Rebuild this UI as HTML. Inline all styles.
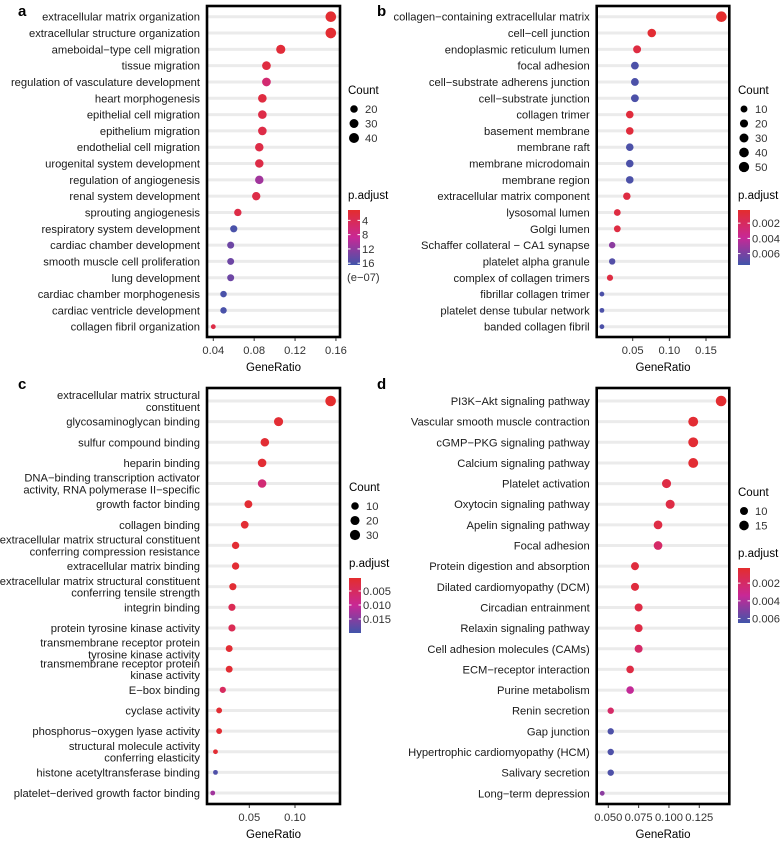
<!DOCTYPE html>
<html><head><meta charset="utf-8">
<style>
html,body{margin:0;padding:0;background:#fff;}
svg{display:block;font-family:"Liberation Sans",Arial,sans-serif;}
</style></head>
<body>
<svg id="chart" width="782" height="842" viewBox="0 0 782 842" xmlns="http://www.w3.org/2000/svg">
<defs>
<linearGradient id="gradP" x1="0" y1="0" x2="0" y2="1">
<stop offset="0" stop-color="rgb(228,45,45)"/>
<stop offset="0.5" stop-color="rgb(200,40,150)"/>
<stop offset="1" stop-color="rgb(65,85,170)"/>
</linearGradient>
</defs>
</svg>
<script>
// ---------- Panel a data ----------
const catsA = ["extracellular matrix organization","extracellular structure organization","ameboidal\u2212type cell migration","tissue migration","regulation of vasculature development","heart morphogenesis","epithelial cell migration","epithelium migration","endothelial cell migration","urogenital system development","regulation of angiogenesis","renal system development","sprouting angiogenesis","respiratory system development","cardiac chamber development","smooth muscle cell proliferation","lung development","cardiac chamber morphogenesis","cardiac ventricle development","collagen fibril organization"];
const ratioA = [0.155,0.155,0.106,0.092,0.092,0.088,0.088,0.088,0.085,0.085,0.085,0.082,0.064,0.060,0.057,0.057,0.057,0.050,0.050,0.040];
const countA = [47,47,32,28,28,27,27,27,26,26,26,25,19,18,17,17,17,15,15,12];
const padjA = [1.5,1.5,2,2.5,6,2.5,3,3,3,3,11,3,3,16,14,14,14,16,16,3];
const xTicksA = [0.04,0.08,0.12,0.16];
const xTickLabelsA = ["0.04","0.08","0.12","0.16"];
const countLegA = [20,30,40];
const pTicksA = [4,8,12,16];
const pTickLabelsA = ["4","8","12","16"];

// ---------- Panel b data ----------
const catsB = ["collagen\u2212containing extracellular matrix","cell\u2212cell junction","endoplasmic reticulum lumen","focal adhesion","cell\u2212substrate adherens junction","cell\u2212substrate junction","collagen trimer","basement membrane","membrane raft","membrane microdomain","membrane region","extracellular matrix component","lysosomal lumen","Golgi lumen","Schaffer collateral \u2212 CA1 synapse","platelet alpha granule","complex of collagen trimers","fibrillar collagen trimer","platelet dense tubular network","banded collagen fibril"];
const ratioB = [0.171,0.076,0.056,0.053,0.053,0.053,0.046,0.046,0.046,0.046,0.046,0.042,0.029,0.029,0.022,0.022,0.019,0.008,0.008,0.008];
const countB = [55,25,18,17,17,17,15,15,15,15,15,14,9,9,7,7,6,3,3,3];
const padjB = [0.0003,0.0005,0.001,0.0072,0.0072,0.0072,0.0008,0.0008,0.0072,0.0072,0.0072,0.001,0.001,0.001,0.0055,0.007,0.001,0.0072,0.0072,0.0072];
const xTicksB = [0.05,0.10,0.15];
const xTickLabelsB = ["0.05","0.10","0.15"];
const countLegB = [10,20,30,40,50];
const pTicksB = [0.002,0.004,0.006];
const pTickLabelsB = ["0.002","0.004","0.006"];

// ---------- Panel c data ----------
const catsC = ["extracellular matrix structural\nconstituent","glycosaminoglycan binding","sulfur compound binding","heparin binding","DNA\u2212binding transcription activator\nactivity, RNA polymerase II\u2212specific","growth factor binding","collagen binding","extracellular matrix structural constituent\nconferring compression resistance","extracellular matrix binding","extracellular matrix structural constituent\nconferring tensile strength","integrin binding","protein tyrosine kinase activity","transmembrane receptor protein\ntyrosine kinase activity","transmembrane receptor protein\nkinase activity","E\u2212box binding","cyclase activity","phosphorus\u2212oxygen lyase activity","structural molecule activity\nconferring elasticity","histone acetyltransferase binding","platelet\u2212derived growth factor binding"];
const ratioC = [0.139,0.082,0.067,0.064,0.064,0.049,0.045,0.035,0.035,0.032,0.031,0.031,0.028,0.028,0.021,0.017,0.017,0.013,0.013,0.010];
const countC = [34,20,16,16,16,12,11,9,9,8,8,8,7,7,5,4,4,3,3,3];
const padjC = [0.0005,0.001,0.001,0.001,0.007,0.001,0.001,0.001,0.001,0.001,0.004,0.004,0.001,0.001,0.005,0.001,0.001,0.001,0.019,0.013];
const xTicksC = [0.05,0.10];
const xTickLabelsC = ["0.05","0.10"];
const countLegC = [10,20,30];
const pTicksC = [0.005,0.010,0.015];
const pTickLabelsC = ["0.005","0.010","0.015"];

// ---------- Panel d data ----------
const catsD = ["PI3K\u2212Akt signaling pathway","Vascular smooth muscle contraction","cGMP\u2212PKG signaling pathway","Calcium signaling pathway","Platelet activation","Oxytocin signaling pathway","Apelin signaling pathway","Focal adhesion","Protein digestion and absorption","Dilated cardiomyopathy (DCM)","Circadian entrainment","Relaxin signaling pathway","Cell adhesion molecules (CAMs)","ECM\u2212receptor interaction","Purine metabolism","Renin secretion","Gap junction","Hypertrophic cardiomyopathy (HCM)","Salivary secretion","Long\u2212term depression"];
const ratioD = [0.143,0.120,0.120,0.120,0.098,0.101,0.091,0.091,0.072,0.072,0.075,0.075,0.075,0.068,0.068,0.052,0.052,0.052,0.052,0.045];
const countD = [19,16,16,16,13,13,12,12,10,10,10,10,10,9,9,7,7,7,7,6];
const padjD = [0.0004,0.0005,0.0005,0.0005,0.001,0.001,0.001,0.002,0.0008,0.0008,0.001,0.001,0.002,0.001,0.0035,0.002,0.0062,0.0062,0.0062,0.0048];
const xTicksD = [0.050,0.075,0.100,0.125];
const xTickLabelsD = ["0.050","0.075","0.100","0.125"];
const countLegD = [10,15];
const pTicksD = [0.002,0.004,0.006];
const pTickLabelsD = ["0.002","0.004","0.006"];

const NS = "http://www.w3.org/2000/svg";
const svg = document.getElementById("chart");
function mk(tag, attrs, parent){
  const e = document.createElementNS(NS, tag);
  for (const k in attrs) e.setAttribute(k, attrs[k]);
  (parent||svg).appendChild(e);
  return e;
}
function lerp(a,b,t){return a+(b-a)*t;}
function colorAt(t){
  t=Math.max(0,Math.min(1,t));
  const s0=[228,45,45], s1=[200,40,150], s2=[65,85,170];
  let a,b,u;
  if(t<0.5){a=s0;b=s1;u=t/0.5;} else {a=s1;b=s2;u=(t-0.5)/0.5;}
  return "rgb("+Math.round(lerp(a[0],b[0],u))+","+Math.round(lerp(a[1],b[1],u))+","+Math.round(lerp(a[2],b[2],u))+")";
}
const FS = 11.2;

function drawPanel(cfg){
  const g = mk("g",{});
  
  
  const L=cfg.box[0], T=cfg.box[1], R=cfg.box[2], B=cfg.box[3];
  const xs = v => cfg.x0 + (v-cfg.v0)*cfg.k;
  const n = cfg.cats.length;
  const ys = i => cfg.yFirst + i*(cfg.yLast-cfg.yFirst)/(n-1);
  const cmin = Math.min(...cfg.counts), cmax = Math.max(...cfg.counts);
  const rs = c => 2.4 + 2.9*Math.sqrt(Math.max(0,(c-cmin))/(cmax-cmin));
  const ct = p => (p-cfg.pDom[0])/(cfg.pDom[1]-cfg.pDom[0]);

  const lt = mk("text",{x:cfg.letter[0],y:cfg.letter[1],"font-size":15,"font-weight":"bold",fill:"#000"},g);
  lt.textContent = cfg.id;
  
  

  for(let i=0;i<n;i++){
    const y=ys(i);
    const gl = mk("line",{x1:L,x2:R,y1:y,y2:y,stroke:"#ebebeb","stroke-width":3},g);
    
    
    const lines = cfg.cats[i].split("\n");
    const t = mk("text",{x:L-7,"text-anchor":"end","font-size":FS,fill:"#1a1a1a"},g);
    
    
    const lh=11.8;
    lines.forEach((ln,j)=>{
      const ts = mk("tspan",{x:L-7,y:y+4+(j-(lines.length-1)/2)*lh},t);
      ts.textContent = ln;
    });
  }
  for(let i=0;i<n;i++){
    const c = mk("circle",{cx:xs(cfg.ratios[i]),cy:ys(i),r:rs(cfg.counts[i]),fill:colorAt(ct(cfg.padj[i]))},g);
    
    
  }
  const bx = mk("rect",{x:L,y:T,width:R-L,height:B-T,fill:"none",stroke:"#000","stroke-width":2.6},g);
  
  
  cfg.ticks.forEach((v,i)=>{
    const x=xs(v);
    const tk = mk("line",{x1:x,x2:x,y1:B+1,y2:B+4,stroke:"#333","stroke-width":1},g);
    
    
    const tl = mk("text",{x:x,y:B+17,"text-anchor":"middle","font-size":FS,fill:"#333"},g);
    tl.textContent = cfg.tickLabels[i];
    
    
  });
  const xt = mk("text",{x:(L+R)/2,y:B+34,"text-anchor":"middle","font-size":11.5,fill:"#000"},g);
  xt.textContent="GeneRatio";
  
  

  const lx = cfg.leg[0];
  const ct1 = mk("text",{x:lx,y:cfg.countY,"font-size":11.5,fill:"#000"},g);
  ct1.textContent="Count";
  
  
  cfg.countLeg.forEach((c,i)=>{
    const y = cfg.countY+15+i*14.5;
    const d = mk("circle",{cx:lx+6,cy:y,r:rs(c),fill:"#000"},g);
    
    
    const tt = mk("text",{x:lx+17,y:y+4,"font-size":FS,fill:"#333"},g);
    tt.textContent = String(c);
    
    
  });
  const pt = mk("text",{x:lx,y:cfg.pY,"font-size":11.5,fill:"#000"},g);
  pt.textContent="p.adjust";
  
  
  const bt=cfg.pY+11, bh=55;
  const bar = mk("rect",{x:lx,y:bt,width:12,height:bh,fill:"url(#gradP)"},g);
  
  
  cfg.pTicks.forEach((p,i)=>{
    const y = bt + ct(p)*bh;
    mk("line",{x1:lx,x2:lx+2.5,y1:y,y2:y,stroke:"#fff","stroke-width":1},g);
    mk("line",{x1:lx+9.5,x2:lx+12,y1:y,y2:y,stroke:"#fff","stroke-width":1},g);
    const tt = mk("text",{x:lx+14,y:y+4,"font-size":FS,fill:"#333"},g);
    tt.textContent = cfg.pTickLabels[i];
    
    
  });
  if(cfg.pNote){
    const tt = mk("text",{x:lx-1,y:bt+bh+16,"font-size":FS,fill:"#333"},g);
    tt.textContent = cfg.pNote;
    
    
  }
}

drawPanel({id:"a",cats:catsA,ratios:ratioA,counts:countA,padj:padjA,ticks:xTicksA,tickLabels:xTickLabelsA,
  countLeg:countLegA,pTicks:pTicksA,pTickLabels:pTickLabelsA,pDom:[1.1,16.5],pNote:"(e\u221207)",
  box:[207,6,340,337],x0:213.3,v0:0.04,k:1022,yFirst:16.7,yLast:326.7,
  letter:[18,16],leg:[348],countY:94,pY:199});
drawPanel({id:"b",cats:catsB,ratios:ratioB,counts:countB,padj:padjB,ticks:xTicksB,tickLabels:xTickLabelsB,
  countLeg:countLegB,pTicks:pTicksB,pTickLabels:pTickLabelsB,pDom:[0.00027,0.0075],
  box:[596.7,6,729.3,337],x0:632.7,v0:0.05,k:733,yFirst:16.7,yLast:326.7,
  letter:[377,16],leg:[738],countY:94,pY:199});
drawPanel({id:"c",cats:catsC,ratios:ratioC,counts:countC,padj:padjC,ticks:xTicksC,tickLabels:xTickLabelsC,
  countLeg:countLegC,pTicks:pTicksC,pTickLabels:pTickLabelsC,pDom:[0.00036,0.020],
  box:[207,388,340,804],x0:249.3,v0:0.05,k:914,yFirst:401,yLast:793,
  letter:[18,389],leg:[349],countY:491,pY:567});
drawPanel({id:"d",cats:catsD,ratios:ratioD,counts:countD,padj:padjD,ticks:xTicksD,tickLabels:xTickLabelsD,
  countLeg:countLegD,pTicks:pTicksD,pTickLabels:pTickLabelsD,pDom:[0.00029,0.0065],
  box:[596.7,388,729.3,804],x0:608.3,v0:0.05,k:1213,yFirst:401,yLast:793.3,
  letter:[377,389],leg:[738],countY:496,pY:557});
</script>
</body></html>
